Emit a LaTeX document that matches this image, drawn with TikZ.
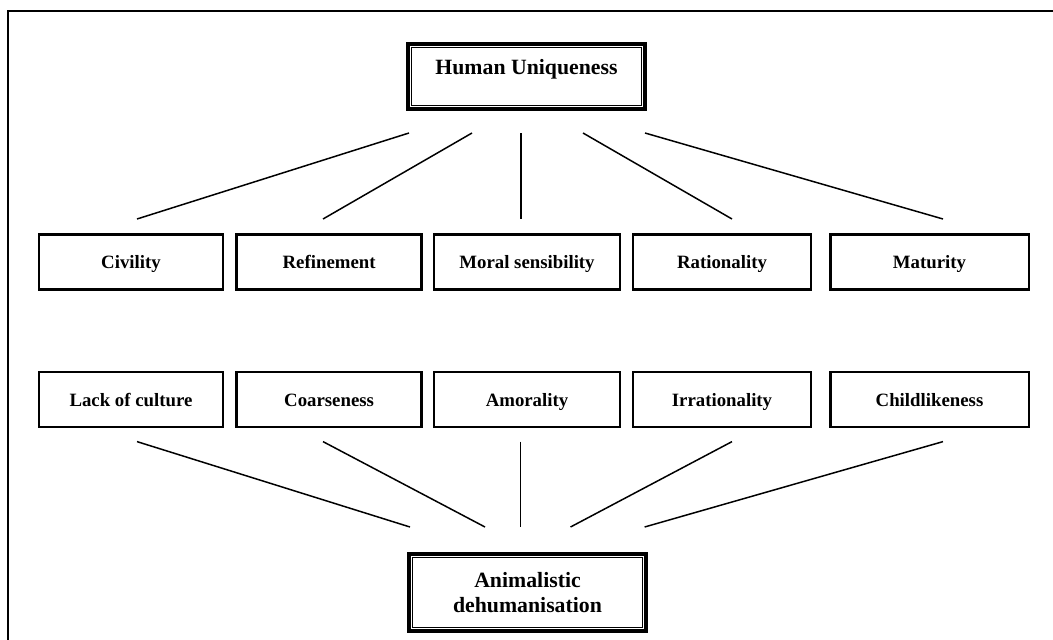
\documentclass[tikz,border=0pt]{standalone}
\usepackage{fontspec}
\setmainfont{Liberation Serif}
\begin{document}
\begin{tikzpicture}[x=0.02cm,y=-0.02cm,
  attr/.style={draw, line width=1.5pt, inner sep=0pt, outer sep=0pt,
    minimum height=1.1cm, text height=9pt, text depth=1pt,
    font=\fontsize{10.7}{12.8}\selectfont\bfseries},
  mainbox/.style={draw, line width=2.4pt, inner sep=0pt, outer sep=0pt,
    minimum width=4.74cm, font=\fontsize{12.4}{14.2}\selectfont\bfseries},
  innerframe/.style={line width=0.6pt},
  link/.style={line width=0.85pt},
  frame/.style={line width=1.2pt}]
\useasboundingbox (0,0) rectangle (1053,639);
\fill[white] (0,0) rectangle (1053,639);
\draw[frame] (8,650) -- (8,11) -- (1060,11);

% main boxes
\node[mainbox, minimum height=1.3cm, text height=9pt, text depth=11.8pt] (hu) at (526.5,76.5) {Human Uniqueness};
\draw[innerframe] ([shift={(3.8,3.8)}]hu.north west) rectangle ([shift={(-3.8,-3.8)}]hu.south east);
\node[mainbox, minimum height=1.54cm, align=center] (ad) at (527.5,592.5) {Animalistic\\dehumanisation};
\draw[innerframe] ([shift={(3.8,3.8)}]ad.north west) rectangle ([shift={(-3.8,-3.8)}]ad.south east);

% upper row
\node[attr, minimum width=3.674cm] (civ) at (131,261.7) {Civility};
\node[attr, minimum width=3.694cm] (ref) at (329.1,261.7) {Refinement};
\node[attr, minimum width=3.714cm] (mor) at (527,261.7) {Moral sensibility};
\node[attr, minimum width=3.554cm] (rat) at (722,261.7) {Rationality};
\node[attr, minimum width=3.974cm] (mat) at (929.5,261.7) {Maturity};

% lower row
\node[attr, minimum width=3.674cm] (lac) at (131,399.6) {Lack of culture};
\node[attr, minimum width=3.694cm] (coa) at (329.1,399.6) {Coarseness};
\node[attr, minimum width=3.714cm] (amo) at (527,399.6) {Amorality};
\node[attr, minimum width=3.554cm] (irr) at (722,399.6) {Irrationality};
\node[attr, minimum width=3.974cm] (chi) at (929.5,399.6) {Childlikeness};

% connector end points
\coordinate (hu1) at (409,133);
\coordinate (hu2) at (472,133);
\coordinate (hu3) at (521,133);
\coordinate (hu4) at (583,133);
\coordinate (hu5) at (645,133);
\coordinate (civt) at (137,219);
\coordinate (reft) at (323,219);
\coordinate (mort) at (521,219);
\coordinate (ratt) at (732,219);
\coordinate (matt) at (943,219);
\coordinate (lacb) at (137,441.6);
\coordinate (coab) at (323,441.6);
\coordinate (amob) at (520.6,441.6);
\coordinate (irrb) at (732,441.6);
\coordinate (chib) at (943,441.6);
\coordinate (ad1) at (410,527);
\coordinate (ad2) at (485,527);
\coordinate (ad3) at (520.6,527);
\coordinate (ad4) at (570.5,527);
\coordinate (ad5) at (644.6,527);

\draw[link] (hu1) -- (civt);
\draw[link] (hu2) -- (reft);
\draw[link] (hu3) -- (mort);
\draw[link] (hu4) -- (ratt);
\draw[link] (hu5) -- (matt);
\draw[link] (lacb) -- (ad1);
\draw[link] (coab) -- (ad2);
\draw[link] (amob) -- (ad3);
\draw[link] (irrb) -- (ad4);
\draw[link] (chib) -- (ad5);
\end{tikzpicture}
\end{document}
